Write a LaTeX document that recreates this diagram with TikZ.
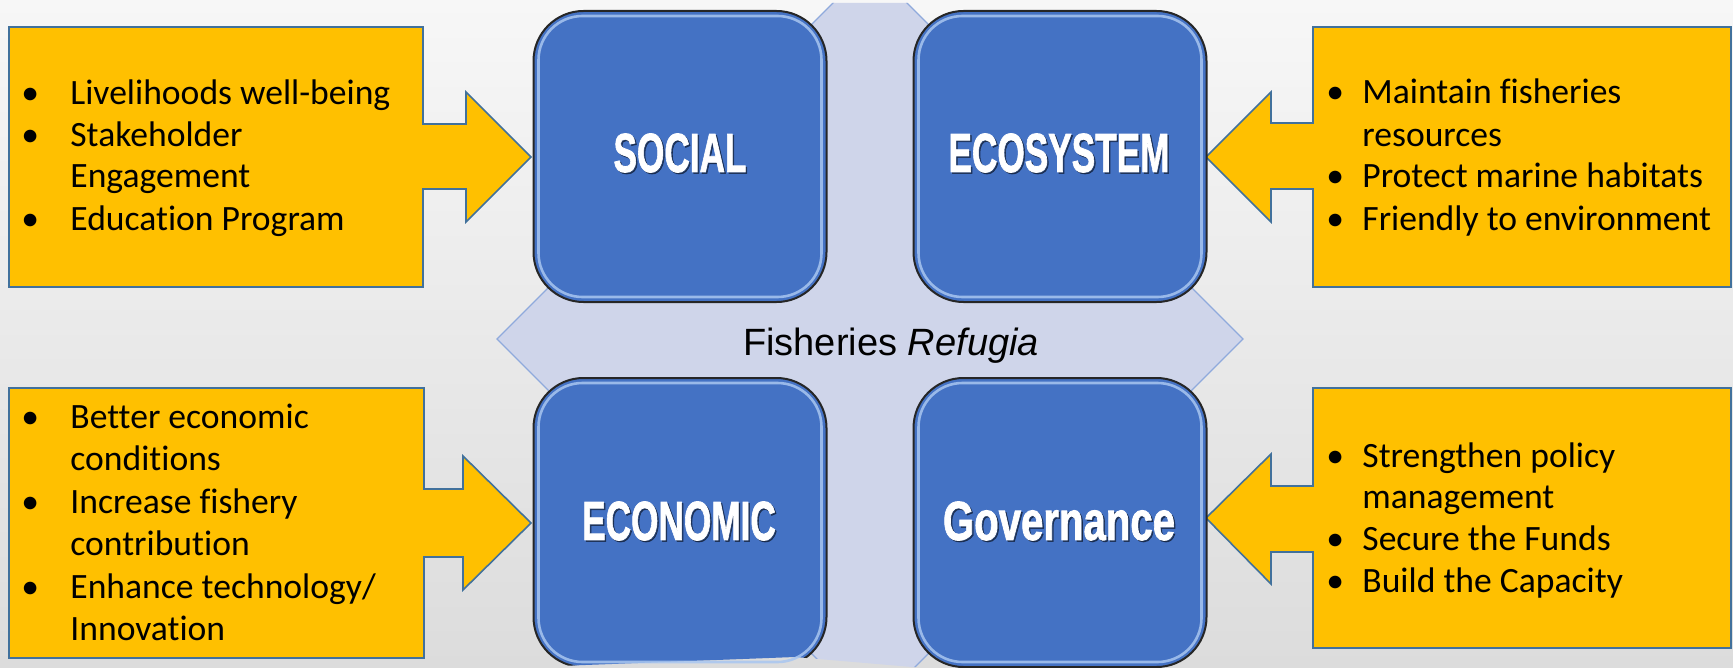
\documentclass[tikz,border=0pt]{standalone}
\usepackage{graphicx}
\usepackage{fontspec}
\setmainfont{Carlito}[Ligatures=NoCommon]
\newfontfamily\arialf{Liberation Sans}
\newfontfamily\impf{Liberation Sans}[FakeBold=1.6]
\usetikzlibrary{calc}
\definecolor{bgtop}{HTML}{F7F7F7}
\definecolor{bgbot}{HTML}{DCDCDC}
\definecolor{gold}{HTML}{FFC000}
\definecolor{goldedge}{HTML}{41719C}
\definecolor{boxblue}{HTML}{4472C4}
\definecolor{hilite}{HTML}{A9C6F0}
\definecolor{lav}{HTML}{CFD5EA}
\definecolor{lavedge}{HTML}{8FAADC}
\newcommand\bulL{\makebox[24.5pt][l]{\textbullet}}
\newcommand\bulR{\makebox[18pt][l]{\textbullet}}
\newcommand\gapL{\hspace*{24.5pt}}
\newcommand\gapR{\hspace*{18pt}}
\tikzset{
  callout/.style={fill=gold, draw=goldedge, line width=0.8pt, line join=miter},
  quad/.style={draw=black!85, line width=1pt, fill=boxblue, rounded corners=25pt,
    minimum width=146.5pt, inner sep=0pt, shape=rectangle},
  bevel/.style={draw=hilite, line width=1.3pt, rounded corners=22pt, opacity=0.85},
  lab/.style={text=white, inner sep=0pt, font=\impf\bfseries\fontsize{27.5}{30}\selectfont},
  labshadow/.style={text=black, opacity=0.45, inner sep=0pt, font=\impf\bfseries\fontsize{27.5}{30}\selectfont},
  txt/.style={anchor=base west, inner sep=0pt, font=\fontsize{17.8}{21}\selectfont},
  diamondbg/.style={fill=lav, draw=lavedge, line width=0.6pt},
}
\begin{document}
\begin{tikzpicture}[x=0.5pt,y=-0.5pt]
\useasboundingbox (0,0) rectangle (1733,668);
\fill[top color=bgtop, bottom color=bgbot] (0,0) rectangle (1733,668);

% background diamond
\begin{scope}
  \clip (0,3) -- (1733,3) -- (1733,668) -- (912,667) -- (795,657) -- (533,667) -- (0,668) -- cycle;
  \draw[diamondbg] (497,339) -- (870,-34) -- (1243,339) -- (870,712) -- cycle;
\end{scope}

% callouts
\draw[callout] (9,27) -- (423,27) -- (423,124) -- (466,124) -- (466,92) -- (531,157)
  -- (466,222) -- (466,189) -- (423,189) -- (423,287) -- (9,287) -- cycle;
\draw[callout] (1313,27) -- (1731,27) -- (1731,287) -- (1313,287) -- (1313,189) -- (1271,189)
  -- (1271,222) -- (1206,157) -- (1271,92) -- (1271,123) -- (1313,123) -- cycle;
\draw[callout] (9,388) -- (424,388) -- (424,489) -- (463,489) -- (463,456) -- (531,523)
  -- (463,590) -- (463,557) -- (424,557) -- (424,658) -- (9,658) -- cycle;
\draw[callout] (1313,388) -- (1731,388) -- (1731,648) -- (1313,648) -- (1313,552) -- (1271,552)
  -- (1271,584) -- (1206,518) -- (1271,454) -- (1271,486) -- (1313,486) -- cycle;

% blue quadrants
\node[quad, minimum height=145.5pt] (social) at (680,156.5) {};
\node[quad, minimum height=145.5pt] (ecosystem) at (1060,156.5) {};
\begin{scope}
  \clip (0,0) -- (1733,0) -- (1733,668) -- (912,667) -- (795,657) -- (533,667) -- (0,668) -- cycle;
  \node[quad, minimum height=144.5pt] (economic) at (680,522.5) {};
\end{scope}
\node[quad, minimum height=144.5pt] (governance) at (1060,522.5) {};
\foreach \b in {social,ecosystem,economic,governance}{
  \draw[bevel] ([shift={(3pt,-3pt)}]\b.north west) rectangle ([shift={(-3pt,3pt)}]\b.south east);
}

% quadrant labels
\node[labshadow] (socials) at (681.5,154.5) {\scalebox{0.64}[1]{SOCIAL}};
\node[lab] (socialt) at (680,153) {\scalebox{0.64}[1]{SOCIAL}};
\node[labshadow] (ecosystems) at (1060.5,154.5) {\scalebox{0.64}[1]{ECOSYSTEM}};
\node[lab] (ecosystemt) at (1059,153) {\scalebox{0.64}[1]{ECOSYSTEM}};
\node[labshadow] (economics) at (680.5,522.5) {\scalebox{0.64}[1]{ECONOMIC}};
\node[lab] (economict) at (679,521) {\scalebox{0.64}[1]{ECONOMIC}};
\node[labshadow] (governances) at (1060.5,522.5) {\scalebox{0.73}[1]{Governance}};
\node[lab] (governancet) at (1059,521) {\scalebox{0.73}[1]{Governance}};

% centre title
\node[anchor=base, inner sep=0pt, font=\arialf\fontsize{19}{22}\selectfont] (title) at (891,355)
  {Fisheries \textit{Refugia}};

% callout texts
\node[txt] (tl1) at (21,105) {\bulL Livelihoods well-being};
\node[txt] (tl2) at (21,147) {\bulL Stakeholder};
\node[txt] (tl3) at (21,188) {\gapL Engagement};
\node[txt] (tl4) at (21,230) {\bulL Education Program};

\node[txt] (tr1) at (1326,104) {\bulR Maintain fisheries};
\node[txt] (tr2) at (1326,147) {\gapR resources};
\node[txt] (tr3) at (1326,188) {\bulR Protect marine habitats};
\node[txt] (tr4) at (1326,230) {\bulR Friendly to environment};

\node[txt] (bl1) at (21,428) {\bulL Better economic};
\node[txt] (bl2) at (21,470) {\gapL conditions};
\node[txt] (bl3) at (21,513) {\bulL Increase fishery};
\node[txt] (bl4) at (21,555) {\gapL contribution};
\node[txt] (bl5) at (21,598) {\bulL Enhance technology/};
\node[txt] (bl6) at (21,640) {\gapL Innovation};

\node[txt] (br1) at (1326,467) {\bulR Strengthen policy};
\node[txt] (br2) at (1326,508) {\gapR management};
\node[txt] (br3) at (1326,550) {\bulR Secure the Funds};
\node[txt] (br4) at (1326,592) {\bulR Build the Capacity};
\end{tikzpicture}
\end{document}
